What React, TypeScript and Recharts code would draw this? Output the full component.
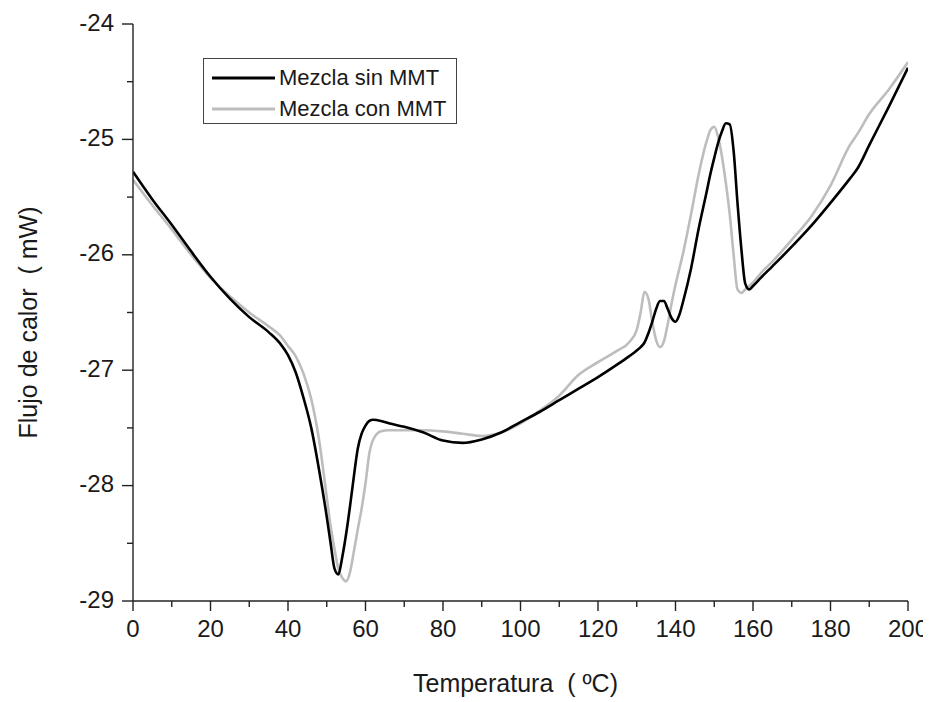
import React from "react";
import { LineChart, Line, XAxis, YAxis, Legend, Label } from "recharts";

// Temperature grid (ºC) shared by both DSC runs
const temperatura = [
  0, 5, 10, 15, 20, 25, 30, 35, 38, 40, 42, 44, 46, 48, 50, 51, 52, 53, 54, 55,
  56, 57, 58, 59, 60, 61, 62, 64, 66, 70, 75, 80, 85, 90, 95, 100, 105, 110, 115,
  120, 125, 128, 130, 131, 132, 133, 134, 135, 136, 137, 138, 139, 140, 141, 142,
  144, 146, 148, 149, 150, 151, 152, 153, 154, 155, 156, 157, 158, 159, 160, 162,
  165, 170, 175, 180, 185, 187, 190, 195, 200,
];

// Heat flow (mW) — blend without montmorillonite
const flujoSinMMT = [
  -25.28, -25.52, -25.74, -25.97, -26.19, -26.38, -26.54, -26.67, -26.77, -26.87,
  -27.02, -27.24, -27.5, -27.86, -28.27, -28.5, -28.72, -28.77, -28.62, -28.42,
  -28.18, -27.92, -27.68, -27.55, -27.48, -27.44, -27.43, -27.44, -27.46, -27.49,
  -27.54, -27.61, -27.63, -27.6, -27.54, -27.45, -27.36, -27.26, -27.16, -27.06,
  -26.95, -26.88, -26.83, -26.8, -26.76, -26.68, -26.58, -26.47, -26.4, -26.4,
  -26.47, -26.55, -26.58, -26.52, -26.4, -26.12, -25.77, -25.46, -25.3, -25.16,
  -25.03, -24.93, -24.86, -24.87, -25.1, -25.55, -25.95, -26.25, -26.3, -26.27,
  -26.2, -26.1, -25.93, -25.75, -25.55, -25.34, -25.25, -25.05, -24.72, -24.38,
];

// Heat flow (mW) — blend with montmorillonite
const flujoConMMT = [
  -25.35, -25.57, -25.78, -26.0, -26.2, -26.36, -26.5, -26.62, -26.7, -26.79,
  -26.88, -27.03, -27.25, -27.6, -28.1, -28.35, -28.55, -28.72, -28.8, -28.83,
  -28.75, -28.57, -28.38, -28.2, -27.98, -27.72, -27.6, -27.53, -27.52, -27.52,
  -27.52, -27.53, -27.55, -27.57, -27.54, -27.46, -27.35, -27.22, -27.04, -26.93,
  -26.83, -26.76, -26.65, -26.5, -26.32, -26.38, -26.58, -26.74, -26.8, -26.75,
  -26.6, -26.42, -26.26, -26.12, -25.98, -25.65, -25.3, -25.02, -24.92, -24.89,
  -24.98, -25.15, -25.38, -25.65, -26.0, -26.3, -26.33, -26.3, -26.27, -26.24,
  -26.16, -26.06, -25.87, -25.67, -25.4, -25.05, -24.95, -24.78, -24.57, -24.33,
];

const xTicks = [
  0, 10, 20, 30, 40, 50, 60, 70, 80, 90, 100, 110, 120, 130, 140, 150, 160, 170,
  180, 190, 200,
];
const yTicks = [-29, -28.5, -28, -27.5, -27, -26.5, -26, -25.5, -25, -24.5, -24];

const series = [
  { key: "sin", name: "Mezcla sin MMT", color: "#000000" },
  { key: "con", name: "Mezcla con MMT", color: "#bdbdbd" },
];

const data = temperatura.map((t, i) => ({
  t,
  sin: flujoSinMMT[i],
  con: flujoConMMT[i],
}));

const FONT = "'Liberation Sans', Arial, sans-serif";
const AXIS = "#222";
const TXT = "#1a1a1a";
const AXW = 1.4;
const TICK_FS = 24;
const LABEL_FS = 25;

const isMajorX = (v: number) => v % 20 === 0;
const isMajorY = (v: number) => Number.isInteger(v);

const BottomTick = (props: any) => {
  const { x, y, payload } = props;
  const major = isMajorX(payload.value);
  return (
    <g>
      <line x1={x} y1={y} x2={x} y2={y + (major ? 10 : 6)} stroke={AXIS} strokeWidth={AXW} />
      {major && (
        <text x={x} y={y + 36} textAnchor="middle" fontSize={TICK_FS} fill={TXT} fontFamily={FONT}>
          {payload.value}
        </text>
      )}
    </g>
  );
};

const TopTick = (props: any) => {
  const { x, y, payload } = props;
  const major = isMajorX(payload.value);
  return <line x1={x} y1={y} x2={x} y2={y + (major ? 11 : 6)} stroke={AXIS} strokeWidth={AXW} />;
};

const LeftTick = (props: any) => {
  const { x, y, payload } = props;
  const major = isMajorY(payload.value);
  return (
    <g>
      <line x1={x - (major ? 11 : 6)} y1={y} x2={x} y2={y} stroke={AXIS} strokeWidth={AXW} />
      {major && (
        <text
          x={x - 19}
          y={y - 2}
          textAnchor="end"
          dominantBaseline="central"
          fontSize={TICK_FS}
          fill={TXT}
          fontFamily={FONT}
        >
          {payload.value}
        </text>
      )}
    </g>
  );
};

const RightTick = (props: any) => {
  const { x, y, payload } = props;
  const major = isMajorY(payload.value);
  return <line x1={x - (major ? 11 : 6)} y1={y} x2={x} y2={y} stroke={AXIS} strokeWidth={AXW} />;
};

const LegendBox = () => (
  <div
    style={{
      border: "1px solid #444",
      background: "#fff",
      width: 254,
      height: 66,
      boxSizing: "border-box",
      fontFamily: FONT,
      fontSize: 22,
      color: TXT,
      paddingTop: 3,
    }}
  >
    {series.map((s) => (
      <div key={s.key} style={{ display: "flex", alignItems: "center", height: 31 }}>
        <svg width={72} height={10} style={{ flex: "none" }}>
          <line x1={8} y1={5} x2={71} y2={5} stroke={s.color} strokeWidth={3} />
        </svg>
        <span style={{ marginLeft: 3, whiteSpace: "nowrap" }}>{s.name}</span>
      </div>
    ))}
  </div>
);

const XLabel = (props: any) => {
  const { viewBox } = props;
  const cx = viewBox.x + viewBox.width / 2 - 5;
  return (
    <text x={cx} y={viewBox.y + 91} textAnchor="middle" fontSize={LABEL_FS} fill={TXT} fontFamily={FONT}>
      {"Temperatura\u00a0\u00a0(\u00a0ºC)"}
    </text>
  );
};

const YLabel = (props: any) => {
  const { viewBox } = props;
  const cx = viewBox.x + 20;
  const cy = viewBox.y + viewBox.height / 2 + 10;
  return (
    <text
      x={cx}
      y={cy}
      transform={`rotate(-90 ${cx} ${cy})`}
      textAnchor="middle"
      dominantBaseline="central"
      fontSize={LABEL_FS}
      fill={TXT}
      fontFamily={FONT}
    >
      {"Flujo de calor\u00a0\u00a0(\u00a0mW)"}
    </text>
  );
};

export default function App() {
  return (
    <LineChart
      width={923}
      height={690}
      data={data}
      margin={{ top: 16, right: 23, bottom: 0, left: 0 }}
      style={{ background: "#fff" }}
    >
      <XAxis
        xAxisId="b"
        dataKey="t"
        type="number"
        domain={[0, 200]}
        ticks={xTicks}
        interval={0}
        allowDataOverflow
        height={97}
        tickSize={0}
        tickMargin={0}
        tickLine={false}
        axisLine={{ stroke: AXIS, strokeWidth: AXW }}
        tick={<BottomTick />}
      >
        <Label content={<XLabel />} />
      </XAxis>
      <XAxis
        xAxisId="t"
        orientation="top"
        dataKey="t"
        type="number"
        domain={[0, 200]}
        ticks={xTicks}
        interval={0}
        allowDataOverflow
        height={0}
        tickSize={0}
        tickMargin={0}
        tickLine={false}
        axisLine={{ stroke: AXIS, strokeWidth: AXW }}
        tick={<TopTick />}
      />
      <YAxis
        yAxisId="l"
        type="number"
        domain={[-29, -24]}
        ticks={yTicks}
        interval={0}
        allowDataOverflow
        width={125}
        tickSize={0}
        tickMargin={0}
        tickLine={false}
        axisLine={{ stroke: AXIS, strokeWidth: AXW }}
        tick={<LeftTick />}
      >
        <Label content={<YLabel />} />
      </YAxis>
      <YAxis
        yAxisId="r"
        orientation="right"
        type="number"
        domain={[-29, -24]}
        ticks={yTicks}
        interval={0}
        allowDataOverflow
        width={0}
        tickSize={0}
        tickMargin={0}
        tickLine={false}
        axisLine={{ stroke: AXIS, strokeWidth: AXW }}
        tick={<RightTick />}
      />
      <Legend
        layout="horizontal"
        verticalAlign="middle"
        align="center"
        content={<LegendBox />}
        wrapperStyle={{ position: "absolute", left: 195, top: 50, width: 254, height: 66 }}
      />
      <Line
        xAxisId="b"
        yAxisId="l"
        type="monotone"
        dataKey="con"
        name={series[1].name}
        stroke={series[1].color}
        strokeWidth={2.6}
        dot={false}
        isAnimationActive={false}
      />
      <Line
        xAxisId="b"
        yAxisId="l"
        type="monotone"
        dataKey="sin"
        name={series[0].name}
        stroke={series[0].color}
        strokeWidth={2.6}
        dot={false}
        isAnimationActive={false}
      />
    </LineChart>
  );
}
